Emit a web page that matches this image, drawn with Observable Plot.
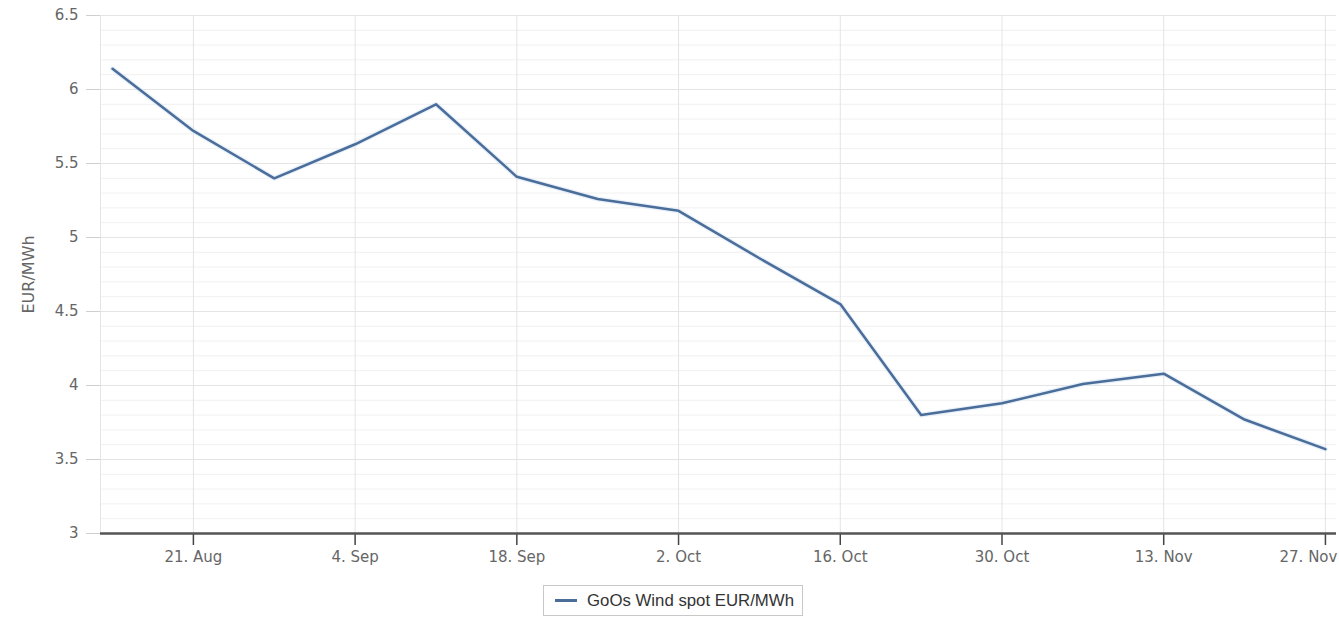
<!DOCTYPE html>
<html>
<head>
<meta charset="utf-8">
<script src="https://cdn.jsdelivr.net/npm/d3@7"></script>
<script src="https://cdn.jsdelivr.net/npm/@observablehq/plot@0.6"></script>
<style>
  html, body { margin: 0; padding: 0; background: #fff; }
  #chart { width: 1339px; }
  .legend { position: relative; margin-left: 543px; margin-top: 5px; width: 260px; height: 31px; border: 1px solid #c8c8c8; box-sizing: border-box; font-family: "Liberation Sans", Arial, sans-serif; font-size: 16.8px; color: #333; display: flex; align-items: center; white-space: nowrap; }
  .legend .swatch { display: inline-block; width: 22px; height: 3px; background: #4a6d99; margin-left: 11px; margin-right: 10px; }
</style>
</head>
<body>
<div id="chart"></div>
<script>
// Data
const dates = ["2017-08-14","2017-08-21","2017-08-28","2017-09-04","2017-09-11","2017-09-18","2017-09-25","2017-10-02","2017-10-09","2017-10-16","2017-10-23","2017-10-30","2017-11-06","2017-11-13","2017-11-20","2017-11-27"];
const values = [6.14, 5.72, 5.40, 5.63, 5.90, 5.41, 5.26, 5.18, 4.86, 4.55, 3.80, 3.88, 4.01, 4.08, 3.77, 3.57];
const xTicks = ["2017-08-21","2017-09-04","2017-09-18","2017-10-02","2017-10-16","2017-10-30","2017-11-13","2017-11-27"];
const yTicks = [3, 3.5, 4, 4.5, 5, 5.5, 6, 6.5];
const yMinor = [3.1,3.2,3.3,3.4,3.6,3.7,3.8,3.9,4.1,4.2,4.3,4.4,4.6,4.7,4.8,4.9,5.1,5.2,5.3,5.4,5.6,5.7,5.8,5.9,6.1,6.2,6.3,6.4];
const seriesName = "GoOs Wind spot EUR/MWh";
const yTitle = "EUR/MWh";
const monthNames = ["Jan","Feb","Mar","Apr","May","Jun","Jul","Aug","Sep","Oct","Nov","Dec"];

const data = dates.map((d, i) => ({date: new Date(d + "T00:00:00Z"), value: values[i]}));
const tickDates = xTicks.map(d => new Date(d + "T00:00:00Z"));
const fmt = d => `${d.getUTCDate()}. ${monthNames[d.getUTCMonth()]}`;
const last = tickDates.slice(-1);
const lastTime = +last[0];

const color = "#4a6d99";

const chart = Plot.plot({
  width: 1339,
  height: 580,
  marginLeft: 100,
  marginRight: 3,
  marginTop: 15,
  marginBottom: 47,
  style: {fontFamily: "'DejaVu Sans', Verdana, sans-serif", fontSize: "15px", background: "#fff"},
  x: {type: "utc", domain: [new Date("2017-08-12T23:00:00Z"), new Date("2017-11-27T23:00:00Z")]},
  y: {domain: [3, 6.5]},
  marks: [
    Plot.ruleY(yMinor, {stroke: "#f1f1f1", strokeWidth: 1}),
    Plot.ruleY(yTicks, {stroke: "#e4e4e4", strokeWidth: 1}),
    Plot.ruleX(tickDates, {stroke: "#e4e4e4", strokeWidth: 1}),
    Plot.frame({anchor: "left", stroke: "#e4e4e4"}),
    Plot.axisY(yTicks, {tickSize: 14, tickPadding: 8, stroke: "#cfcfcf", fill: "#666", label: null, tickFormat: d => String(d)}),
    Plot.axisX(tickDates, {tickSize: 12, tickPadding: 6, stroke: "#444", strokeWidth: 1.5, fill: "#666", label: null, tickFormat: d => (+d === lastTime ? "" : fmt(d))}),
    Plot.text(last, {x: d => d, frameAnchor: "bottom", lineAnchor: "top", textAnchor: "end", dx: 12, dy: 18, text: fmt, fill: "#666"}),
    Plot.ruleY([3], {stroke: "#555", strokeWidth: 2.5}),
    Plot.text([yTitle], {frameAnchor: "left", rotate: -90, dx: -72, dy: 39, fill: "#666", fontSize: 16}),
    Plot.line(data, {x: "date", y: "value", stroke: "#d8e6f5", strokeWidth: 5, strokeOpacity: 0.6}),
    Plot.line(data, {x: "date", y: "value", stroke: color, strokeWidth: 2.5})
  ]
});
document.getElementById("chart").append(chart);

const legend = document.createElement("div");
legend.className = "legend";
legend.innerHTML = `<span class="swatch"></span><span>${seriesName}</span>`;
document.getElementById("chart").append(legend);
</script>
</body>
</html>
